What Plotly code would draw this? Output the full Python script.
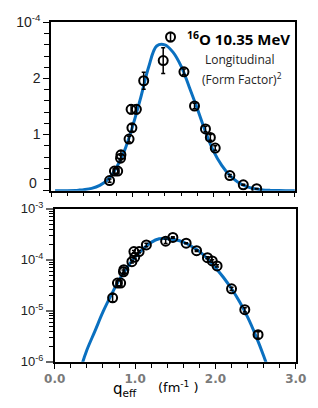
import plotly.graph_objects as go

# Measured data: q_eff (fm^-1), (Form Factor)^2 in units of 1e-4, error (1e-4)
q_data = [0.72, 0.78, 0.82, 0.855, 0.86, 0.96, 0.995, 0.985, 1.05, 1.14,
          1.38, 1.47, 1.635, 1.765, 1.90, 1.96, 2.02, 2.20, 2.365, 2.53]
f2_data = [0.18, 0.35, 0.35, 0.58, 0.64, 0.92, 1.12, 1.45, 1.45, 1.96,
           2.32, 2.74, 2.12, 1.51, 1.10, 0.95, 0.76, 0.27, 0.105, 0.034]
f2_err = [0.03, 0.04, 0.04, 0.05, 0.07, 0.05, 0.06, 0.08, 0.08, 0.15,
          0.23, 0.08, 0.05, 0.05, 0.05, 0.05, 0.04, 0.02, 0.01, 0.005]

# Model curve (units of 1e-4)
q_curve = [0.05, 0.1, 0.2, 0.3, 0.35, 0.4, 0.5, 0.6, 0.7, 0.8, 0.9, 1.0,
           1.1, 1.2, 1.3, 1.4, 1.5, 1.6, 1.7, 1.8, 1.9, 2.0, 2.1, 2.2, 2.3,
           2.4, 2.5, 2.6, 2.7, 2.8, 2.9, 3.0]
f2_curve = [0.000002, 0.00002, 0.0003, 0.004, 0.01, 0.017, 0.04, 0.095, 0.2,
            0.40, 0.70, 1.13, 1.64, 2.2, 2.58, 2.6, 2.47, 2.22, 1.85, 1.46,
            1.05, 0.70, 0.45, 0.27, 0.15, 0.075, 0.033, 0.013, 0.0045,
            0.0013, 0.0003, 0.00006]

SCALE = 1e-4
top_yticks = [0, 1, 2, 3]
top_yticklabels = ["", "1", "2", "10<sup>-4</sup>"]
log_ticks = [1e-6, 1e-5, 1e-4, 1e-3]
log_ticklabels = ["10<sup>-6</sup>", "10<sup>-5</sup>", "10<sup>-4</sup>", "10<sup>-3</sup>"]
x_ticks = [0, 1, 2, 3]
x_ticklabels = ["0.0", "1.0", "2.0", "3.0"]

BLUE = "#0A70C0"
fig = go.Figure()

marker_style = dict(symbol="circle-open", size=9, color="black", line=dict(width=2, color="black"))

# Top panel (linear)
fig.add_trace(go.Scatter(x=q_curve, y=f2_curve, mode="lines", line=dict(color=BLUE, width=3, shape="spline"),
                         xaxis="x", yaxis="y", showlegend=False, hoverinfo="skip"))
fig.add_trace(go.Scatter(x=q_data, y=f2_data, mode="markers", marker=marker_style,
                         error_y=dict(type="data", array=f2_err, color="black", thickness=1.5, width=2),
                         xaxis="x", yaxis="y", showlegend=False))

# Bottom panel (log)
fig.add_trace(go.Scatter(x=q_curve, y=[v * SCALE for v in f2_curve], mode="lines",
                         line=dict(color=BLUE, width=3, shape="spline"),
                         xaxis="x2", yaxis="y2", showlegend=False, hoverinfo="skip"))
fig.add_trace(go.Scatter(x=q_data, y=[v * SCALE for v in f2_data], mode="markers", marker=marker_style,
                         error_y=dict(type="data", array=[e * SCALE for e in f2_err], color="black", thickness=1.5, width=2),
                         xaxis="x2", yaxis="y2", showlegend=False))

W, H = 318, 408
axis_common = dict(showline=True, mirror=True, linecolor="black", linewidth=1.5, showgrid=False, zeroline=False)
minor_x = dict(ticks="outside", dtick=0.2, ticklen=4, tickcolor="black", tickwidth=1)

log_minor = [m * 10 ** e for e in (-6, -5, -4) for m in range(2, 10)]

fig.update_layout(
    width=W, height=H, margin=dict(l=0, r=0, t=0, b=0),
    paper_bgcolor="white", plot_bgcolor="white",
    xaxis=dict(domain=[43 / W, 305 / W], range=[0, 3], anchor="y", showticklabels=False,
               ticks="outside", tickvals=x_ticks, ticklen=5, tickwidth=1, tickcolor="black",
               minor=minor_x, **axis_common),
    yaxis=dict(domain=[1 - 189 / H, 1 - 13 / H], range=[0, 3], anchor="x",
               tickvals=top_yticks, ticktext=top_yticklabels, ticks="outside", ticklen=6,
               tickcolor="black", tickwidth=1,
               tickfont=dict(family="Liberation Sans, Arial", size=14, color="#222"),
               minor=dict(ticks="outside", dtick=0.2, ticklen=5, tickcolor="black", tickwidth=1),
               **axis_common),
    xaxis2=dict(domain=[47 / W, 306 / W], range=[0, 3], anchor="y2",
                tickvals=x_ticks, ticktext=x_ticklabels, ticks="outside", ticklen=5, tickwidth=1,
                tickcolor="black",
                tickfont=dict(family="DejaVu Sans", size=12, color="#7a7a7a", weight="bold"),
                minor=minor_x, **axis_common),
    yaxis2=dict(domain=[1 - 368 / H, 1 - 208 / H], type="log", range=[-6, -3], anchor="x2",
                tickvals=log_ticks, ticktext=log_ticklabels, ticks="outside", ticklen=7,
                tickcolor="#666", tickwidth=2,
                tickfont=dict(family="Liberation Sans, Arial", size=13, color="#222"),
                minor=dict(ticks="outside", tickvals=log_minor, ticklen=4, tickcolor="black", tickwidth=1),
                **axis_common),
    annotations=[
        dict(text="0", xref="paper", yref="y", x=30 / W, y=0.14, xanchor="right", yanchor="middle",
             showarrow=False, font=dict(family="Liberation Sans, Arial", size=14, color="#222")),
        dict(text="<sup>16</sup>O 10.35 MeV", xref="paper", yref="paper", x=187 / W, y=1 - 30 / H,
             xanchor="left", yanchor="middle", showarrow=False,
             font=dict(family="Open Sans", size=15, color="black", weight="bold")),
        dict(text="Longitudinal", xref="paper", yref="paper", x=245 / W, y=1 - 52 / H,
             xanchor="center", yanchor="middle", showarrow=False,
             font=dict(family="Open Sans", size=12, color="#222")),
        dict(text="(Form Factor)<sup>2</sup>", xref="paper", yref="paper", x=248 / W, y=1 - 72 / H,
             xanchor="center", yanchor="middle", showarrow=False,
             font=dict(family="Open Sans", size=12, color="#222")),
        dict(text="q<sub>eff</sub>", xref="paper", yref="paper", x=107 / W, y=1 - 397 / H,
             xanchor="left", yanchor="middle", showarrow=False,
             font=dict(family="DejaVu Sans", size=15, color="black")),
        dict(text="(fm<sup>-1</sup> )", xref="paper", yref="paper", x=156 / W, y=1 - 394 / H,
             xanchor="left", yanchor="middle", showarrow=False,
             font=dict(family="DejaVu Sans", size=13, color="black")),
    ],
)

fig.write_html("out.html", config={"displayModeBar": False},
               post_script="document.body.style.margin='0';document.body.style.overflow='hidden';")
